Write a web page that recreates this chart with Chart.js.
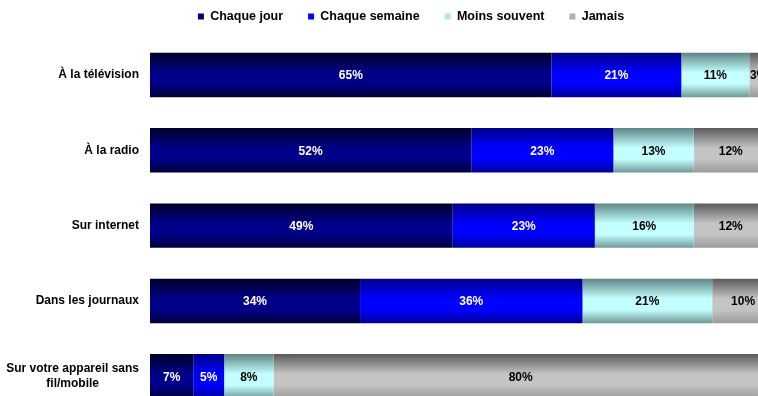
<!DOCTYPE html>
<html lang="fr">
<head>
<meta charset="utf-8">
<title>Fréquence d'information par média</title>
<script src="https://cdn.jsdelivr.net/npm/chart.js@4.4.1/dist/chart.umd.min.js"></script>
<style>
  html, body { margin: 0; padding: 0; background: #fff; overflow: hidden; }
  #wrap { position: relative; width: 774px; height: 414px; }
</style>
</head>
<body>
<div id="wrap"><canvas id="chart"></canvas></div>
<script>
// Categories (multi-line labels as arrays)
const categories = [
    ['À la télévision'],
    ['À la radio'],
    ['Sur internet'],
    ['Dans les journaux'],
    ['Sur votre appareil sans', 'fil/mobile']
];

// Series values, in %
const chaqueJour    = [65, 52, 49, 34, 7];
const chaqueSemaine = [21, 23, 23, 36, 5];
const moinsSouvent  = [11, 13, 16, 21, 8];
const jamais        = [3, 12, 12, 10, 80];

const seriesNames = ['Chaque jour', 'Chaque semaine', 'Moins souvent', 'Jamais'];

const FONT = '"Liberation Sans", Arial, sans-serif';
const BAND = 0.59;       // bar thickness as share of the category band
const LEGEND_H = 52;     // fixed legend box height

// Vertical "tube" gradient for each bar
function shade(top, light, bottom, flat) {
    return (c) => {
        const chart = c.chart;
        if (c.type !== 'data' || !chart.chartArea) return flat;
        const y = chart.scales.y;
        const half = Math.abs(y.getPixelForValue(1) - y.getPixelForValue(0)) * BAND / 2;
        const yc = y.getPixelForValue(c.dataIndex);
        const g = chart.ctx.createLinearGradient(0, yc - half, 0, yc + half);
        g.addColorStop(0, top);
        g.addColorStop(0.45, light);
        g.addColorStop(0.7, light);
        g.addColorStop(1, bottom);
        return g;
    };
}

const fills = [
    shade('#00002a', '#000088', '#000038', '#000080'),
    shade('#000088', '#0000ff', '#000098', '#0000ff'),
    shade('#5e8585', '#c4ffff', '#6f9898', '#a8dede'),
    shade('#5a5a5a', '#c4c4c4', '#9a9a9a', '#a8a8a8')
];
// flat swatches for the legend
const legendColors = ['#000080', '#0000ff', '#b4e6e6', '#b0b0b0'];
const labelColors = ['#ffffff', '#ffffff', '#000000', '#000000'];

// Keep the legend at a fixed height so the plot starts where we want
const legendFit = {
    id: 'legendFit',
    beforeInit(chart) {
        if (!chart.legend) return;
        const fit = chart.legend.fit;
        chart.legend.fit = function () {
            fit.call(this);
            this.height = LEGEND_H;
        };
    }
};

// Category names, right aligned, multi-line blocks centred line by line
const categoryLabels = {
    id: 'categoryLabels',
    afterDraw(chart) {
        const ctx = chart.ctx;
        const y = chart.scales.y;
        const right = chart.chartArea.left - 11;
        ctx.save();
        ctx.font = 'bold 12px ' + FONT;
        ctx.fillStyle = '#000';
        ctx.textBaseline = 'middle';
        ctx.textAlign = 'center';
        categories.forEach((lines, i) => {
            const yc = y.getPixelForValue(i);
            const w = Math.max(...lines.map(l => ctx.measureText(l).width));
            const cx = right - w / 2;
            const lh = 15;
            lines.forEach((l, k) => {
                ctx.fillText(l, cx, yc + (k - (lines.length - 1) / 2) * lh);
            });
        });
        ctx.restore();
    }
};

// Percent labels in the middle of each segment
const valueLabels = {
    id: 'valueLabels',
    afterDatasetsDraw(chart) {
        const ctx = chart.ctx;
        ctx.save();
        ctx.font = 'bold 12px ' + FONT;
        ctx.textAlign = 'center';
        ctx.textBaseline = 'middle';
        chart.data.datasets.forEach((ds, di) => {
            chart.getDatasetMeta(di).data.forEach((bar, i) => {
                ctx.fillStyle = labelColors[di];
                ctx.fillText(ds.data[i] + '%', (bar.x + bar.base) / 2, bar.y + 1);
            });
        });
        ctx.restore();
    }
};

const seriesData = [chaqueJour, chaqueSemaine, moinsSouvent, jamais];

new Chart(document.getElementById('chart'), {
    type: 'bar',
    data: {
        labels: categories.map(l => l.join(' ')),
        datasets: seriesNames.map((name, i) => ({
            label: name,
            data: seriesData[i],
            backgroundColor: fills[i],
            borderWidth: 0,
            barPercentage: 1,
            categoryPercentage: BAND
        }))
    },
    options: {
        indexAxis: 'y',
        responsive: true,
        maintainAspectRatio: false,
        animation: false,
        layout: { padding: { left: 48, right: 0, top: -14.75, bottom: 0 } },
        scales: {
            x: { stacked: true, min: 0, max: 101, display: false },
            y: {
                stacked: true,
                grid: { display: false },
                border: { display: false },
                ticks: { display: false },
                afterFit(scale) { scale.width = 102; }
            }
        },
        plugins: {
            legend: {
                position: 'top',
                labels: {
                    boxWidth: 6,
                    boxHeight: 6,
                    padding: 25,
                    color: '#000',
                    font: { family: FONT, size: 12.5, weight: 'bold' },
                    generateLabels(chart) {
                        const items = Chart.defaults.plugins.legend.labels.generateLabels(chart);
                        items.forEach(it => {
                            it.fillStyle = legendColors[it.datasetIndex];
                            it.strokeStyle = legendColors[it.datasetIndex];
                            it.lineWidth = 0;
                        });
                        return items;
                    }
                }
            },
            tooltip: { enabled: false }
        }
    },
    plugins: [legendFit, categoryLabels, valueLabels]
});
</script>
</body>
</html>
